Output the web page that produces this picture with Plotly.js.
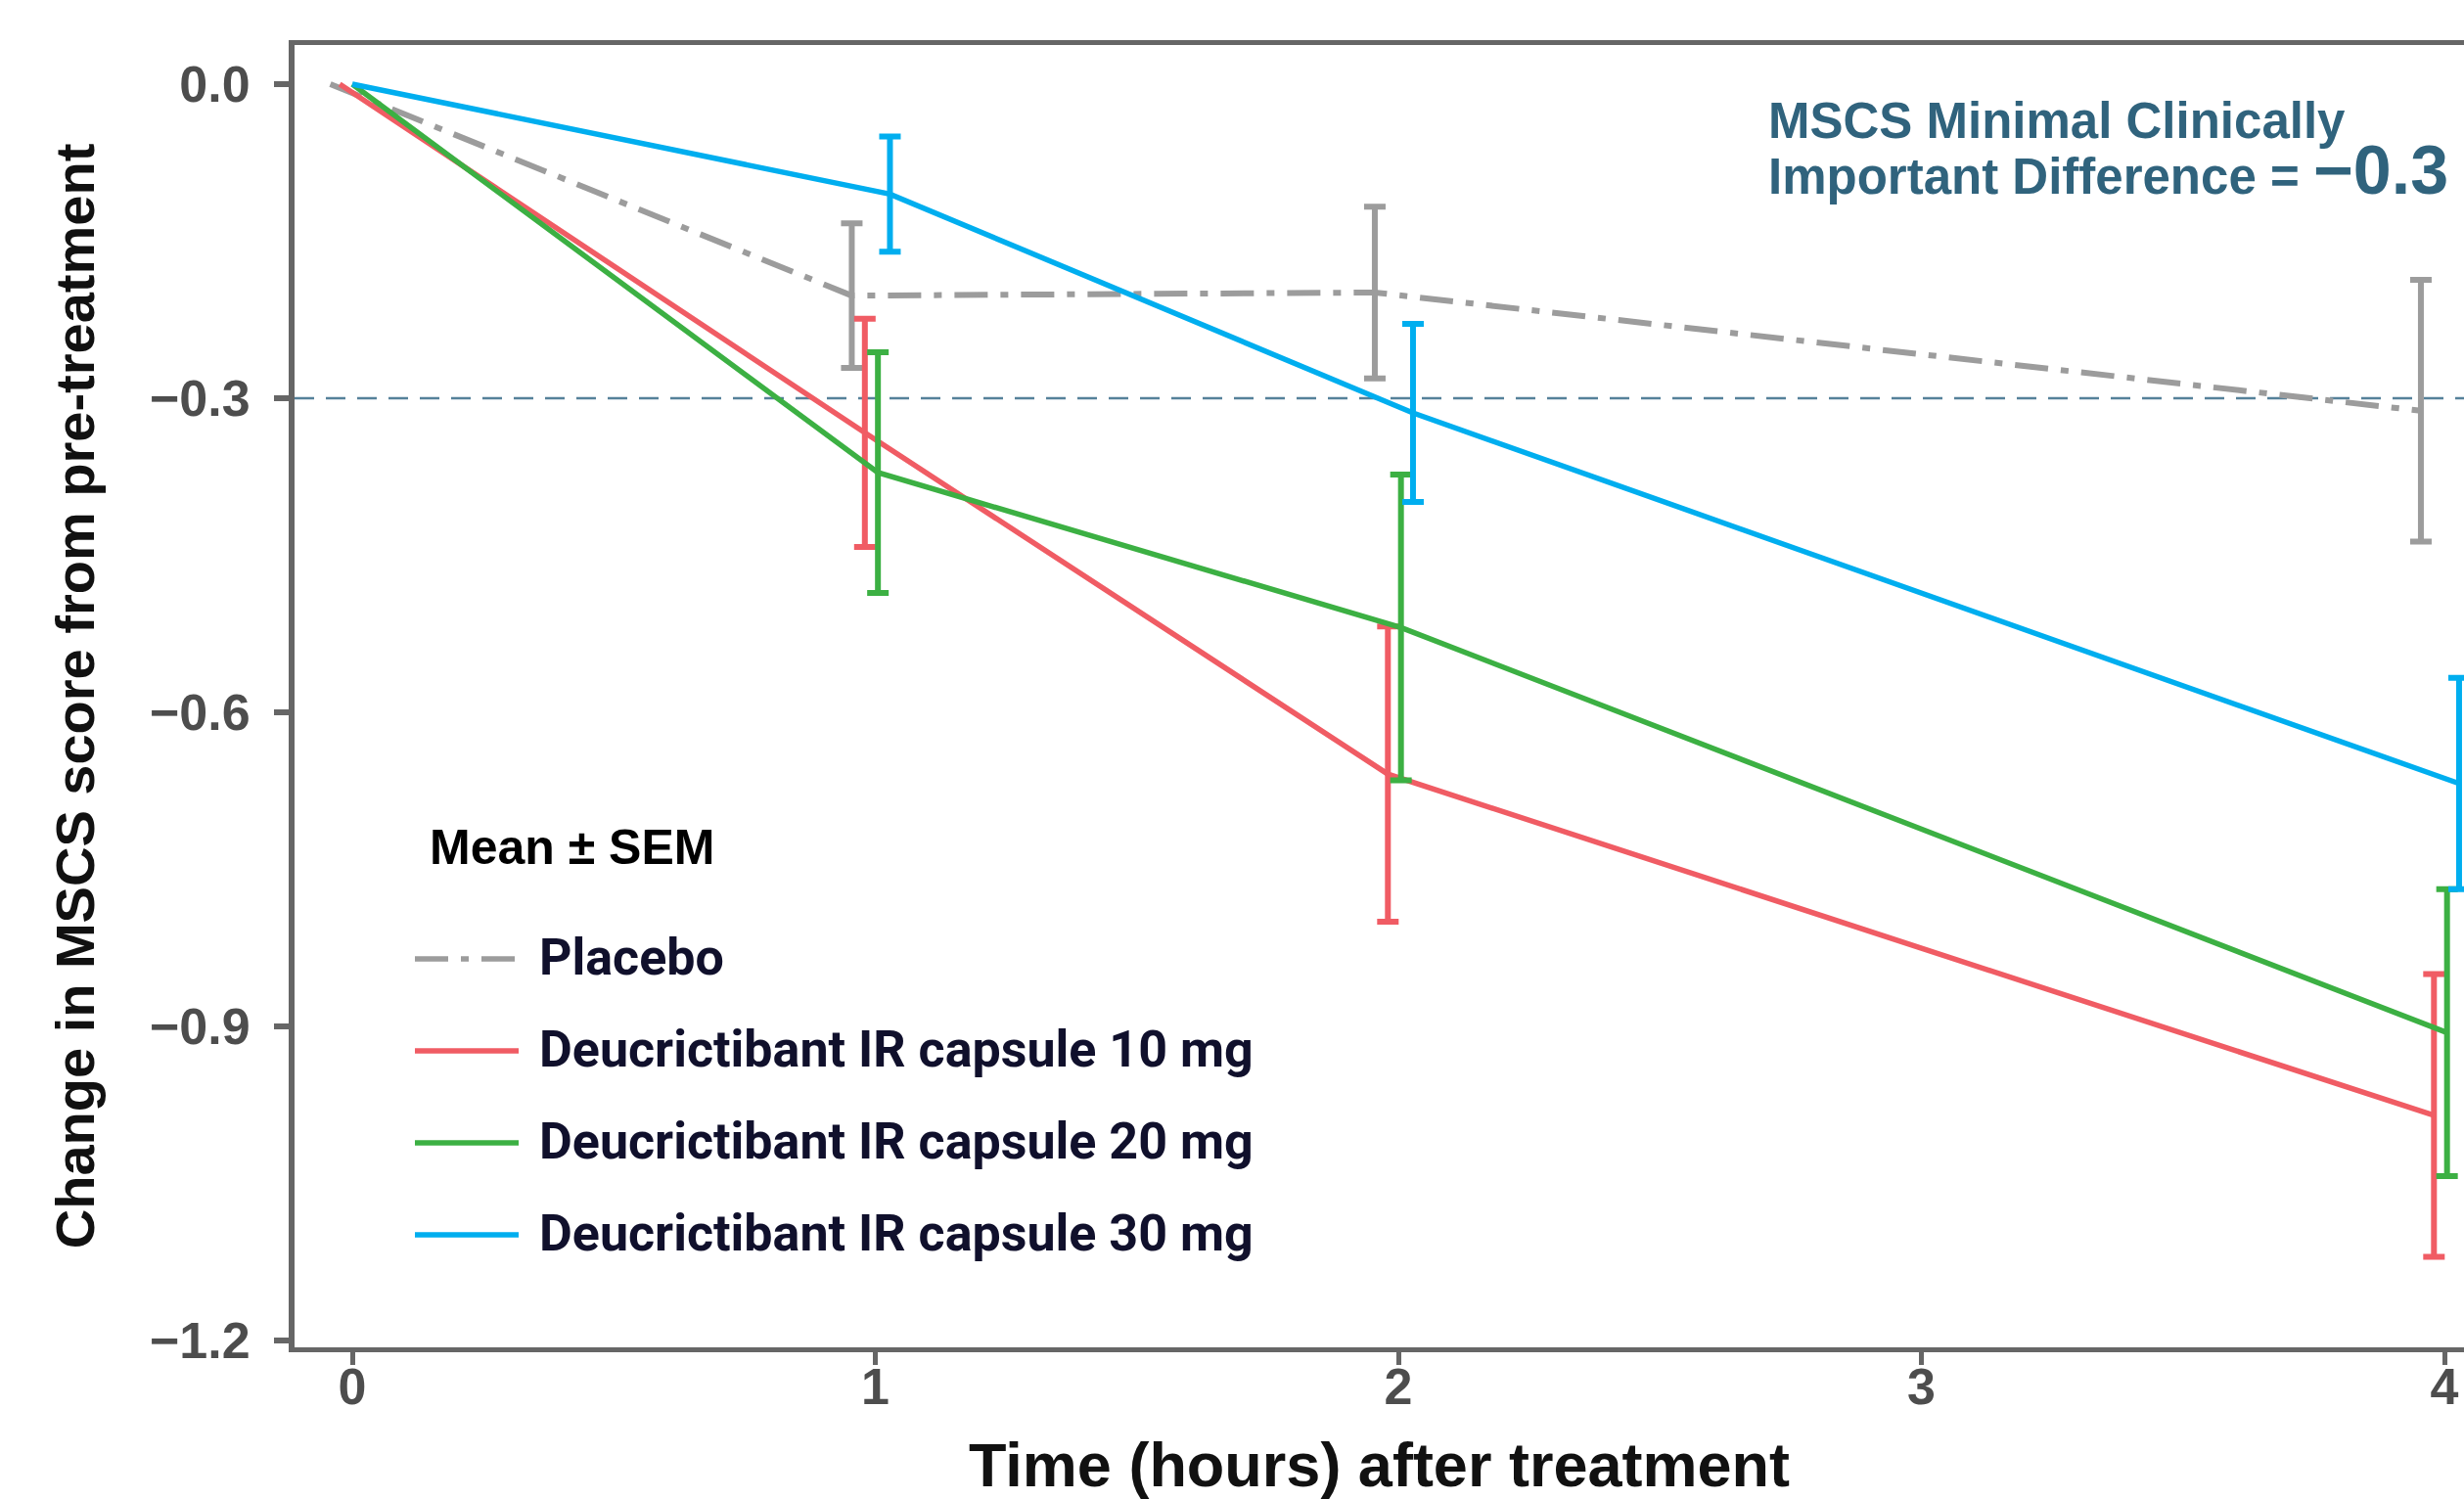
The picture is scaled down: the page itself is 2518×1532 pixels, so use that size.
<!DOCTYPE html>
<html>
<head>
<meta charset="utf-8">
<script src="https://cdn.plot.ly/plotly-3.0.1.min.js"></script>
<style>
  html, body { margin: 0; padding: 0; background: #ffffff; overflow: hidden; }
  #chart { width: 2518px; height: 1532px; }
</style>
</head>
<body>
<div id="chart"></div>
<script>
// ---------------- data ----------------
const timeHours = [0, 1, 2, 4];
const xTickVals = [0, 1, 2, 3, 4];
const yTickVals = [0, -0.3, -0.6, -0.9, -1.2];

const seriesNames = [
  "Placebo",
  "Deucrictibant IR capsule 10 mg",
  "Deucrictibant IR capsule 20 mg",
  "Deucrictibant IR capsule 30 mg"
];
const placeboMean = [0, -0.202, -0.199, -0.312];
const placeboSem  = [null, 0.069, 0.082, 0.125];
const mg10Mean    = [0, -0.333, -0.659, -0.985];
const mg10Sem     = [null, 0.109, 0.141, 0.135];
const mg20Mean    = [0, -0.371, -0.519, -0.906];
const mg20Sem     = [null, 0.115, 0.146, 0.137];
const mg30Mean    = [0, -0.105, -0.314, -0.668];
const mg30Sem     = [null, 0.055, 0.085, 0.101];

const mcidValue = -0.3;
const legendTitle = "Mean ± SEM";
const mcidLine1 = "MSCS Minimal Clinically";
const mcidLine2 = "Important Difference = ";
const xTitle = "Time (hours) after treatment";
const yTitle = "Change in MSCS score from pre-treatment";

// ---------------- styles ----------------
const seriesColors = ["#9c9c9c", "#f05c64", "#3cb043", "#00aeef"];
const seriesDash   = ["34px,13px,8px,13px", "solid", "solid", "solid"];
const seriesWidth  = [6, 5.5, 5.5, 5.5];
const dodge        = [-0.045, -0.02, 0.005, 0.028];   // ggplot-style position dodge
const dodgeStart   = [-0.042, -0.024, 0, 0];          // dodge seen at the baseline point
const means = [placeboMean, mg10Mean, mg20Mean, mg30Mean];
const sems  = [placeboSem, mg10Sem, mg20Sem, mg30Sem];

// plot area in page pixels
const W = 2518, H = 1532;
const PL = 301, PR = 2518, PT = 46, PB = 1377;
const px2x = px => (px - PL) / (PR - PL);
const px2y = py => (PB - py) / (PB - PT);

const traces = [];
seriesNames.forEach((name, i) => {
  const xs = timeHours.map((t, k) => t + (t === 0 ? dodgeStart[i] : dodge[i]));
  traces.push({
    type: "scatter",
    mode: "lines",
    name: name,
    x: xs,
    y: means[i],
    line: { color: seriesColors[i], width: seriesWidth[i], dash: seriesDash[i] },
    showlegend: false,
    hoverinfo: "skip"
  });
  const idx = sems[i].map((s, k) => (s === null ? -1 : k)).filter(k => k >= 0);
  traces.push({
    type: "scatter",
    mode: "markers",
    name: name + " SEM",
    x: idx.map(k => xs[k]),
    y: idx.map(k => means[i][k]),
    marker: { size: 1, color: "rgba(0,0,0,0)" },
    error_y: {
      type: "data",
      array: idx.map(k => sems[i][k]),
      visible: true,
      color: seriesColors[i],
      thickness: 6,
      width: 11
    },
    showlegend: false,
    hoverinfo: "skip"
  });
});

// ---------------- manual legend (ggplot style) ----------------
const shapes = [
  {
    type: "line", xref: "paper", yref: "y",
    x0: 0, x1: 1, y0: mcidValue, y1: mcidValue,
    line: { color: "#55819a", width: 2.5, dash: "20px,12px" },
    layer: "below"
  }
];
const annotations = [];
const legTop = 980, legStep = 94;
seriesNames.forEach((name, i) => {
  const yy = legTop + i * legStep;
  shapes.push({
    type: "line", xref: "paper", yref: "paper",
    x0: px2x(424), x1: px2x(530), y0: px2y(yy), y1: px2y(yy),
    line: { color: seriesColors[i], width: 5.5, dash: seriesDash[i] }
  });
  annotations.push({
    xref: "paper", yref: "paper",
    x: px2x(549), y: px2y(yy - 2),
    xanchor: "left", yanchor: "middle",
    text: name, showarrow: false,
    font: { family: "Roboto, 'Liberation Sans', sans-serif", size: 52, weight: 700, color: "#10102c" }
  });
});
annotations.push({
  xref: "paper", yref: "paper",
  x: px2x(437), y: px2y(866),
  xanchor: "left", yanchor: "middle",
  text: legendTitle, showarrow: false,
  font: { family: "'Liberation Sans', Arial, sans-serif", size: 50, weight: 700, color: "#000000" }
});
// MCID note
annotations.push({
  xref: "paper", yref: "paper",
  x: px2x(1805), y: px2y(124),
  xanchor: "left", yanchor: "middle",
  text: mcidLine1, showarrow: false,
  font: { family: "'Liberation Sans', Arial, sans-serif", size: 51, weight: 700, color: "#30637d" }
});
annotations.push({
  xref: "paper", yref: "paper",
  x: px2x(1805), y: px2y(174),
  xanchor: "left", yanchor: "middle",
  text: mcidLine2 + '<span style="font-size:70px">' + "\u2212" + Math.abs(mcidValue).toFixed(1) + "</span>",
  showarrow: false,
  font: { family: "'Liberation Sans', Arial, sans-serif", size: 51, weight: 700, color: "#30637d" }
});

const axisFont = { family: "'Liberation Sans', Arial, sans-serif", size: 52, weight: 700, color: "#4d4d4d" };
const yTitleFont = { family: "'Liberation Sans', Arial, sans-serif", size: 56, weight: 700, color: "#111111" };
const xTitleFont = { family: "'Liberation Sans', Arial, sans-serif", size: 63, weight: 700, color: "#111111" };

const layout = {
  width: W, height: H,
  margin: { l: PL, r: W - PR, t: PT, b: H - PB, pad: 0 },
  paper_bgcolor: "#ffffff",
  plot_bgcolor: "#ffffff",
  showlegend: false,
  xaxis: {
    range: [(PL - 360) / 534.5, (PR - 360) / 534.5],
    tickmode: "array", tickvals: xTickVals, ticktext: xTickVals.map(String),
    showgrid: false, zeroline: false,
    showline: true, linecolor: "#666666", linewidth: 5, mirror: true,
    ticks: "outside", ticklen: 13, tickwidth: 5, tickcolor: "#666666",
    ticklabelstandoff: -22,
    tickfont: axisFont,
    title: { text: xTitle, font: xTitleFont, standoff: 56 }
  },
  yaxis: {
    range: [-(PB - 86) / 1070, (86 - PT) / 1070],
    tickmode: "array", tickvals: yTickVals, tickformat: ".1f",
    showgrid: false, zeroline: false,
    showline: true, linecolor: "#666666", linewidth: 6, mirror: false,
    ticks: "outside", ticklen: 15, tickwidth: 6, tickcolor: "#666666",
    ticklabelstandoff: 14,
    tickfont: axisFont,
    title: { text: yTitle, font: yTitleFont, standoff: 40 }
  },
  shapes: shapes,
  annotations: annotations
};

Plotly.newPlot("chart", traces, layout, { staticPlot: true, displayModeBar: false });
</script>
</body>
</html>
